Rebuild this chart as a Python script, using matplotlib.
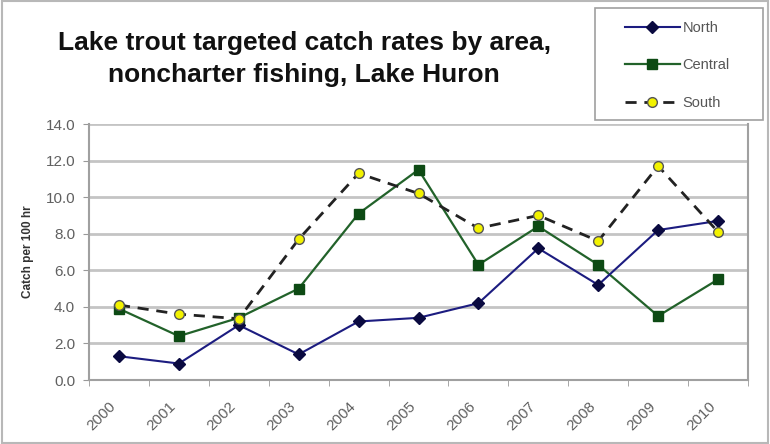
import matplotlib
matplotlib.use('Agg')
import matplotlib.pyplot as plt
import matplotlib.transforms as mtransforms
from matplotlib.patches import Rectangle
from matplotlib.ticker import FormatStrFormatter, FixedLocator

years = ['2000', '2001', '2002', '2003', '2004', '2005',
         '2006', '2007', '2008', '2009', '2010']
north = [1.3, 0.9, 3.0, 1.4, 3.2, 3.4, 4.2, 7.2, 5.2, 8.2, 8.7]
central = [3.9, 2.4, 3.4, 5.0, 9.1, 11.5, 6.3, 8.4, 6.3, 3.5, 5.5]
south = [4.1, 3.6, 3.35, 7.7, 11.3, 10.2, 8.3, 9.0, 7.6, 11.7, 8.1]

plt.rcParams['font.family'] = ['Liberation Sans', 'DejaVu Sans']

fig = plt.figure(figsize=(7.7, 4.44), dpi=100)
ax = fig.add_axes([89 / 770, 1 - 380 / 444, (748 - 89) / 770, (380 - 124) / 444])

x = list(range(len(years)))
ax.plot(x, north, color='#1c1c80', lw=1.5, marker='D', ms=6,
        mfc='#0a0a40', mec='#0a0a40', label='North', zorder=4)
ax.plot(x, central, color='#22622a', lw=1.6, marker='s', ms=6.5,
        mfc='#0d4a14', mec='#0d4a14', label='Central', zorder=3)
ax.plot(x, south, color='#222222', lw=2, ls=(0, (4, 2.8)), marker='o', ms=7,
        mfc='#f2f200', mec='#555555', mew=1, label='South', zorder=5)

ax.set_xlim(-0.5, 10.5)
ax.set_ylim(0, 14)
ax.set_yticks([0, 2, 4, 6, 8, 10, 12, 14])
ax.yaxis.set_major_formatter(FormatStrFormatter('%.1f'))
ax.grid(axis='y', color='#c4c4c4', lw=2)
ax.set_axisbelow(True)

ax.set_xticks(x)
ax.set_xticklabels(years, rotation=45, ha='right', rotation_mode='anchor')
ax.xaxis.set_minor_locator(FixedLocator([i - 0.5 for i in range(12)]))
ax.tick_params(axis='x', which='major', length=0, pad=14, labelsize=11, labelcolor='#606060')
ax.tick_params(axis='x', which='minor', length=4, color='#999999')
ax.tick_params(axis='y', length=4, color='#999999', labelsize=11, labelcolor='#606060', pad=6)

# nudge the rotated year labels to the left, like the original
shift = mtransforms.ScaledTranslation(-10 / 100, 0, fig.dpi_scale_trans)
for lab in ax.get_xticklabels():
    lab.set_transform(lab.get_transform() + shift)

for side in ['left', 'bottom', 'right']:
    ax.spines[side].set_color('#a0a0a0')
    ax.spines[side].set_linewidth(1.5)
ax.spines['top'].set_visible(False)

fig.text(28 / 770, 1 - 252 / 444, 'Catch per 100 hr', rotation=90, ha='center', va='center',
         fontsize=8.5, fontweight='bold', color='#333333')

fig.text(304 / 770, 1 - 59 / 444,
         'Lake trout targeted catch rates by area,\nnoncharter fishing, Lake Huron',
         ha='center', va='center', fontsize=19, fontweight='bold', color='#111111',
         linespacing=1.4)

leg = fig.legend(loc='upper left', bbox_to_anchor=(625 / 770, 1 - 21 / 444),
                 fontsize=10.5, handlelength=3.75, labelspacing=1.6,
                 borderpad=0, frameon=False, handletextpad=0.2, borderaxespad=0)
for t in leg.get_texts():
    t.set_color('#555555')

fig.patches.append(Rectangle((595 / 770, 1 - 120 / 444), 168 / 770, 112 / 444,
                             transform=fig.transFigure, fill=True, facecolor='white',
                             edgecolor='#a0a0a0', lw=1.2, zorder=0))

fig.patches.append(Rectangle((0.002, 0.003), 0.995, 0.994, transform=fig.transFigure,
                             fill=False, edgecolor='#b8b8b8', lw=1.5))

fig.savefig('out.png', dpi=100)
